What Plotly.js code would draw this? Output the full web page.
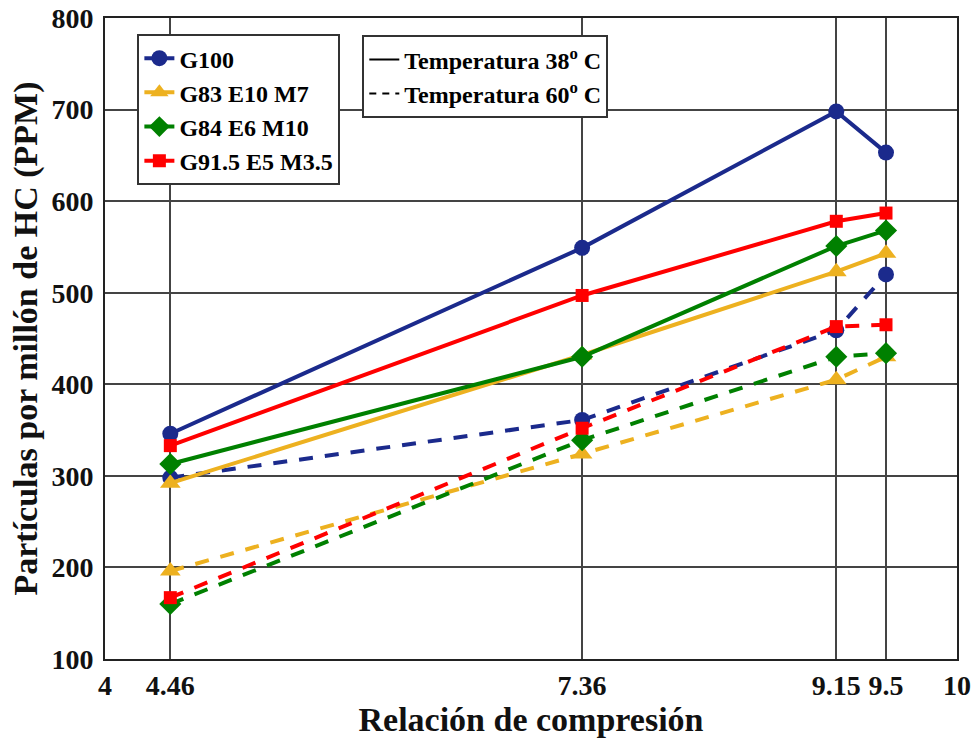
<!DOCTYPE html>
<html><head><meta charset="utf-8">
<script src="https://cdn.plot.ly/plotly-3.0.1.min.js"></script>
<style>body{margin:0;background:#fff}</style></head>
<body><div id="chart" style="width:972px;height:740px"></div>
<script>
const compression = [4.46, 7.36, 9.15, 9.5];
const xTickVals = [4, 4.46, 7.36, 9.15, 9.5, 10];
const xTickText = ['4', '4.46', '7.36', '9.15', '9.5', '10'];
const yTickVals = [100, 200, 300, 400, 500, 600, 700, 800];
const yTickText = ['100', '200', '300', '400', '500', '600', '700', '800'];
const fuelNames = ['G100', 'G83 E10 M7', 'G84 E6 M10', 'G91.5 E5 M3.5'];
const fuelColors = ['#1b2a8c', '#edb120', '#008000', '#ff0000'];
const fuelSymbols = ['circle', 'triangle-up', 'diamond', 'square'];
const hc38_G100 = [346, 549, 698, 653];
const hc38_G83 = [292, 432, 523, 543];
const hc38_G84 = [313, 430, 551, 568];
const hc38_G915 = [333, 497, 578, 587];
const hc60_G100 = [298, 361, 459, 520];
const hc60_G83 = [196, 324, 405, 430];
const hc60_G84 = [160, 339, 430, 434];
const hc60_G915 = [167, 352, 463, 465];
const tempLabels = ['Temperatura 38<sup>o</sup> C', 'Temperatura 60<sup>o</sup> C'];

const bold = s => '<b>' + s + '</b>';
const solid = [hc38_G100, hc38_G83, hc38_G84, hc38_G915];
const dashed = [hc60_G100, hc60_G83, hc60_G84, hc60_G915];
const msize = [16, 18, 17, 13];
const traces = [];
for (let i = 0; i < 4; i++) {
  traces.push({x: compression, y: dashed[i], type: 'scatter', mode: 'lines+markers',
    line: {color: fuelColors[i], width: 4, dash: '14px,12px'},
    marker: {color: fuelColors[i], symbol: fuelSymbols[i], size: msize[i]}, showlegend: false});
}
for (let i = 0; i < 4; i++) {
  traces.push({x: compression, y: solid[i], type: 'scatter', mode: 'lines+markers', name: bold(fuelNames[i]),
    line: {color: fuelColors[i], width: 4},
    marker: {color: fuelColors[i], symbol: fuelSymbols[i], size: msize[i]}, legend: 'legend'});
}
traces.push({x: [null], y: [null], type: 'scatter', mode: 'lines', name: bold(tempLabels[0]),
  line: {color: '#000', width: 2}, legend: 'legend2'});
traces.push({x: [null], y: [null], type: 'scatter', mode: 'lines', name: bold(tempLabels[1]),
  line: {color: '#000', width: 2, dash: '7px,6px'}, legend: 'legend2'});

const ff = '"Liberation Serif", "Times New Roman", serif';
const layout = {
  width: 972, height: 740,
  margin: {l: 105, r: 15, t: 18, b: 81},
  paper_bgcolor: '#fff', plot_bgcolor: '#fff',
  font: {family: ff, color: '#111'},
  xaxis: {range: [4, 10], tickvals: xTickVals, ticktext: xTickText.map(bold),
    showgrid: true, gridcolor: '#444', gridwidth: 2, zeroline: false,
    showline: true, linecolor: '#222', linewidth: 2, mirror: true, ticks: '',
    tickfont: {family: ff, size: 28, color: '#111'},
    title: {text: bold('Relación de compresión'), font: {family: ff, size: 34, color: '#111'}, standoff: 0}},
  yaxis: {range: [100, 800], tickvals: yTickVals, ticktext: yTickText.map(bold),
    showgrid: true, gridcolor: '#444', gridwidth: 2, zeroline: false,
    showline: true, linecolor: '#222', linewidth: 2, mirror: true, ticks: '',
    ticklabelstandoff: 4,
    tickfont: {family: ff, size: 28, color: '#111'},
    title: {text: bold('Partículas por millón de HC (PPM)'), font: {family: ff, size: 34, color: '#111'}, standoff: 4}},
  legend: {x: 0.038, y: 0.975, xanchor: 'left', yanchor: 'top', bgcolor: '#fff',
    bordercolor: '#333', borderwidth: 2, tracegroupgap: 0, itemwidth: 30,
    font: {family: ff, size: 24, color: '#000'}},
  legend2: {x: 0.302, y: 0.973, xanchor: 'left', yanchor: 'top', bgcolor: '#fff',
    bordercolor: '#333', borderwidth: 2, itemwidth: 30,
    font: {family: ff, size: 24, color: '#000'}},
  showlegend: true
};
Plotly.newPlot('chart', traces, layout, {displayModeBar: false});
</script></body></html>
